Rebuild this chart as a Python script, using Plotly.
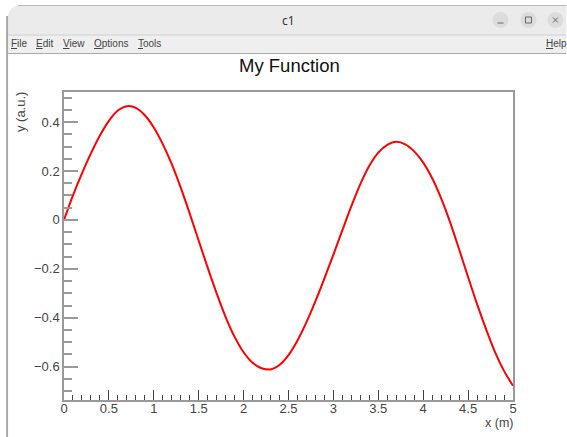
import plotly.graph_objects as go

# Curve values
x_values = [0, 0.1, 0.2, 0.3, 0.4, 0.5, 0.6, 0.7, 0.8, 0.9,
            1.0, 1.1, 1.2, 1.3, 1.4, 1.5, 1.6, 1.7, 1.8, 1.9,
            2.0, 2.1, 2.2, 2.3, 2.4, 2.5, 2.6, 2.7, 2.8, 2.9,
            3.0, 3.1, 3.2, 3.3, 3.4, 3.5, 3.6, 3.7, 3.8, 3.9,
            4.0, 4.1, 4.2, 4.3, 4.4, 4.5, 4.6, 4.7, 4.8, 4.9, 5.0]
y_values = [0, 0.100, 0.190, 0.272, 0.345, 0.405, 0.447, 0.465, 0.458, 0.428,
            0.378, 0.310, 0.228, 0.132, 0.026, -0.085, -0.195, -0.300, -0.397, -0.478,
            -0.541, -0.584, -0.606, -0.611, -0.593, -0.553, -0.493, -0.418, -0.332, -0.239,
            -0.142, -0.042, 0.056, 0.146, 0.221, 0.275, 0.307, 0.319, 0.309, 0.280,
            0.234, 0.170, 0.088, -0.010, -0.120, -0.234, -0.344, -0.446, -0.540, -0.617, -0.678]

title_text = "My Function"
x_label = "x (m)"
y_label = "y (a.u.)"
window_title = "c1"
menu_items = [("File", 11), ("Edit", 36), ("View", 63), ("Options", 94), ("Tools", 138), ("Help", 547)]

W, H = 567, 437
L, R, T, B = 64, 513.5, 92, 400


def px(v):
    return (v - L) / (R - L)


def py(v):
    return (B - v) / (B - T)


shapes = []


def add_rect(x0, y0, x1, y1, fill):
    shapes.append(dict(type="rect", xref="paper", yref="paper", x0=px(x0), x1=px(x1), y0=py(y0), y1=py(y1),
                       fillcolor=fill, line_width=0, layer="below"))


def add_line(x0, y0, x1, y1, color, width=1):
    shapes.append(dict(type="line", xref="paper", yref="paper", x0=px(x0), x1=px(x1), y0=py(y0), y1=py(y1),
                       line=dict(color=color, width=width), layer="below"))


# Window frame
add_rect(8, 14, W, H, "#ffffff")
add_rect(18, 6, W, 35, "#ebebeb")
add_rect(8, 15, 18, 35, "#ebebeb")
shapes.append(dict(type="circle", xref="paper", yref="paper", x0=px(8), x1=px(28), y0=py(6), y1=py(26),
                   fillcolor="#ebebeb", line_width=0, layer="below"))
add_line(18, 5.5, W, 5.5, "#b8b8b8")
add_rect(8, 35, W, 53, "#efefef")
add_line(8, 35, W, 35, "#d0d0d0")
add_line(8, 53.5, W, 53.5, "#aaaaaa")
add_line(7, 16, 7, H, "#a8a8a8", 2)
for cx in (501, 529, 556):
    shapes.append(dict(type="circle", xref="paper", yref="paper", x0=px(cx - 8), x1=px(cx + 8),
                       y0=py(20 + 8), y1=py(20 - 8), fillcolor="#dcdcdc", line_width=0, layer="below"))
add_line(498, 23, 504, 23, "#666666")
shapes.append(dict(type="rect", xref="paper", yref="paper", x0=px(526), x1=px(532), y0=py(17), y1=py(23),
                   line=dict(color="#666666", width=1), fillcolor="rgba(0,0,0,0)", layer="below"))
add_line(553.5, 17.5, 558.5, 22.5, "#666666")
add_line(553.5, 22.5, 558.5, 17.5, "#666666")


def text(x, y, s, size, color="#222222", anchor="center", font="Liberation Sans", angle=0):
    return dict(xref="paper", yref="paper", x=px(x), y=py(y), text=s, showarrow=False, xanchor=anchor,
                yanchor="middle", textangle=angle, font=dict(family=font, size=size, color=color),
                borderpad=0, borderwidth=0)


annotations = [
    text(289.5, 65.5, title_text, 18.5, "#111111"),
    text(513.5, 423, x_label, 12.5, "#444444", anchor="right"),
    text(20, 112, y_label, 13, "#444444", angle=-90),
    text(289, 20.5, window_title, 12, "#333333", font="Noto Sans"),
]
for name, pos in menu_items:
    annotations.append(text(pos, 44, "<u>" + name[0] + "</u>" + name[1:], 10, "#444444", anchor="left"))

fig = go.Figure(go.Scatter(x=x_values, y=y_values, mode="lines",
                           line=dict(color="#ff0000", width=2, shape="spline", smoothing=1),
                           hoverinfo="skip"))
fig.update_layout(
    width=W, height=H, autosize=False, showlegend=False,
    margin=dict(l=L, r=W - R, t=T, b=H - B, pad=0),
    paper_bgcolor="#ffffff", plot_bgcolor="rgba(0,0,0,0)",
    shapes=shapes, annotations=annotations,
    font=dict(family="Liberation Sans", size=13, color="#444444"),
)
fig.update_xaxes(range=[0, 5], tick0=0, dtick=0.5, ticks="inside", ticklen=10, tickwidth=1, tickcolor="#444444",
                 showgrid=False, zeroline=False, showline=True, linecolor="#999999", linewidth=1.5, mirror=True,
                 minor=dict(tick0=0, dtick=0.1, ticks="inside", ticklen=5, tickwidth=1, tickcolor="#444444",
                            showgrid=False),
                 tickfont=dict(size=13, color="#444444"), ticklabelstandoff=-4)
fig.update_yaxes(range=[-0.736, 0.5228], tick0=0, dtick=0.2, ticks="inside", ticklen=14, tickwidth=1.5,
                 tickcolor="#999999", showgrid=False, zeroline=False, showline=True, linecolor="#999999",
                 linewidth=1.5, mirror=True,
                 minor=dict(tick0=0, dtick=0.05, ticks="inside", ticklen=8, tickwidth=1.5, tickcolor="#999999",
                            showgrid=False),
                 tickfont=dict(size=13, color="#444444"), ticklabelstandoff=0)

fig.write_html("out.html", config={"displayModeBar": False},
               post_script="document.body.style.margin='0';document.body.style.overflow='hidden';")
